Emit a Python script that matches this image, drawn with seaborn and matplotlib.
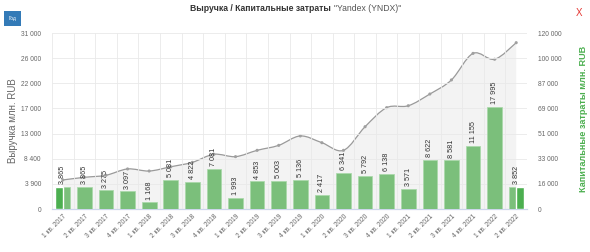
import numpy as np
import pandas as pd
from matplotlib import pyplot as plt
from matplotlib.path import Path
from matplotlib.patches import PathPatch
import seaborn as sns

# quarters shown on the x axis
quarters = ["1 кв. 2017", "2 кв. 2017", "3 кв. 2017", "4 кв. 2017",
            "1 кв. 2018", "2 кв. 2018", "3 кв. 2018", "4 кв. 2018",
            "1 кв. 2019", "2 кв. 2019", "3 кв. 2019", "4 кв. 2019",
            "1 кв. 2020", "2 кв. 2020", "3 кв. 2020", "4 кв. 2020",
            "1 кв. 2021", "2 кв. 2021", "3 кв. 2021", "4 кв. 2021",
            "1 кв. 2022", "2 кв. 2022"]
# bar values (left axis)
capex = [3865, 3865, 3275, 3097, 1168, 5081, 4822, 7081, 1993, 4853, 5003,
         5136, 2417, 6341, 5792, 6138, 3571, 8622, 8581, 11155, 17995, 3852]
# line values (approx.)
revenue = [19800, 21600, 23000, 27300, 25900, 28800, 31800, 37300, 35700,
           40000, 43400, 49800, 45200, 40000, 56100, 69100, 70400, 78400,
           88000, 106100, 102100, 113400]

left_ticks = ["0", "3 900", "8 400", "13 000", "17 000", "22 000", "26 000", "31 000"]
right_ticks = ["0", "16 000", "33 000", "51 000", "69 000", "87 000", "100 000", "120 000"]
left_max = 31000
right_max = 120000

# bars drawn half in darker green (first / last)
dark_halves = {0: -1, 21: 1}

df = pd.DataFrame({"quarter": quarters, "capex": capex, "revenue": revenue})

sns.set_theme(style="white")
plt.rcParams["font.family"] = ["Liberation Sans", "DejaVu Sans"]

fig = plt.figure(figsize=(5.9, 2.52), dpi=100)
ax = fig.add_axes([52 / 590, 1 - 209 / 252, 475 / 590, 176 / 252])
ax2 = ax.twinx()

bar_green = "#7bbf7b"
dark_green = "#4caf50"
grid_c = "#e9e9e9"

# --- revenue line (right axis), smooth spline like the original
xs = np.arange(len(df))
ys = df.revenue.values.astype(float)
pts = np.column_stack([xs, ys])
ext = np.vstack([pts[0], pts, pts[-1]])
verts = [tuple(pts[0])]
codes = [Path.MOVETO]
for i in range(1, len(ext) - 2):
    p0, p1, p2, p3 = ext[i - 1], ext[i], ext[i + 1], ext[i + 2]
    c1 = p1 + (p2 - p0) / 6
    c2 = p2 - (p3 - p1) / 6
    verts += [tuple(c1), tuple(c2), tuple(p2)]
    codes += [Path.CURVE4] * 3
line_path = Path(verts, codes)
fill_path = Path(verts + [(xs[-1], 0), (xs[0], 0), (xs[0], ys[0])],
                 codes + [Path.LINETO, Path.LINETO, Path.CLOSEPOLY])
ax2.add_patch(PathPatch(fill_path, facecolor="#f3f3f3", edgecolor="none", zorder=1))
ax2.add_patch(PathPatch(line_path, facecolor="none", edgecolor="#9a9a9a", lw=0.9, zorder=2))
sns.scatterplot(x=xs, y=ys, ax=ax2, color="#a0a0a0", s=5, edgecolor="none", zorder=3)
ax2.set_ylim(0, right_max)
ax2.set_yticks(np.linspace(0, right_max, len(right_ticks)))
ax2.set_yticklabels(right_ticks)

# --- capex bars (left axis), drawn on top of the line
ax.set_zorder(ax2.get_zorder() + 1)
ax.patch.set_visible(False)
sns.barplot(data=df, x="quarter", y="capex", ax=ax, color=bar_green,
            width=0.68, saturation=1, edgecolor="#a8d8a8", linewidth=0.5, zorder=3)
for i, side in dark_halves.items():
    ax.bar(i + side * 0.17, capex[i], width=0.34, color=dark_green, zorder=4)
for i, v in enumerate(capex):
    ax.annotate(f"{v:,}".replace(",", " "), (i, v), xytext=(0, 2),
                textcoords="offset points", rotation=90, ha="center", va="bottom",
                fontsize=5.2, color="#333333", zorder=5)
ax.set_ylim(0, left_max)
ax.set_xlim(-0.5, len(df) - 0.5)
ax.set_yticks(np.linspace(0, left_max, len(left_ticks)))
ax.set_yticklabels(left_ticks)

# grid
ax.set_xticks(np.arange(len(df)) - 0.5, minor=True)
ax.grid(True, which="minor", axis="x", color=grid_c, lw=0.6)
ax.grid(True, which="major", axis="y", color=grid_c, lw=0.6)
ax.set_axisbelow(True)

ax.set_xticks(xs)
ax.set_xticklabels(quarters, rotation=45, ha="right", rotation_mode="anchor")
ax.tick_params(axis="x", which="both", length=0, labelsize=4.8, labelcolor="#666666", pad=3)
ax.tick_params(axis="y", length=0, labelsize=4.8, labelcolor="#666666", pad=8)
ax2.tick_params(axis="y", length=0, labelsize=4.8, labelcolor="#666666", pad=8)
ax.set_xlabel("")

for a in (ax, ax2):
    for s in ("top", "left", "right"):
        a.spines[s].set_visible(False)
    a.spines["bottom"].set_color("#ccd6eb")
    a.spines["bottom"].set_linewidth(0.8)

ax.set_ylabel("Выручка млн. RUB", fontsize=7, color="#666666")
ax.yaxis.set_label_coords(-0.072, 0.5)
ax2.set_ylabel("Капитальные затраты млн. RUB", fontsize=6.6, color="#4caf50",
               fontweight="bold", rotation=90)
ax2.yaxis.set_label_coords(1.11, 0.51)

# title, button and close mark
fig.text(0.561, 0.968, "Выручка / Капитальные затраты", ha="right", va="center",
         fontsize=6.2, fontweight="bold", color="#333333")
fig.text(0.566, 0.968, '"Yandex (YNDX)"', ha="left", va="center",
         fontsize=6.2, color="#555555")
fig.text(0.021, 0.928, "Год", ha="center", va="center", fontsize=3.5, color="white",
         bbox=dict(boxstyle="square,pad=1.0", facecolor="#337ab7", edgecolor="none"))
fig.text(0.981, 0.95, "X", ha="center", va="center", fontsize=7, color="#e53935")

fig.savefig("out.png", dpi=100, facecolor="white")
